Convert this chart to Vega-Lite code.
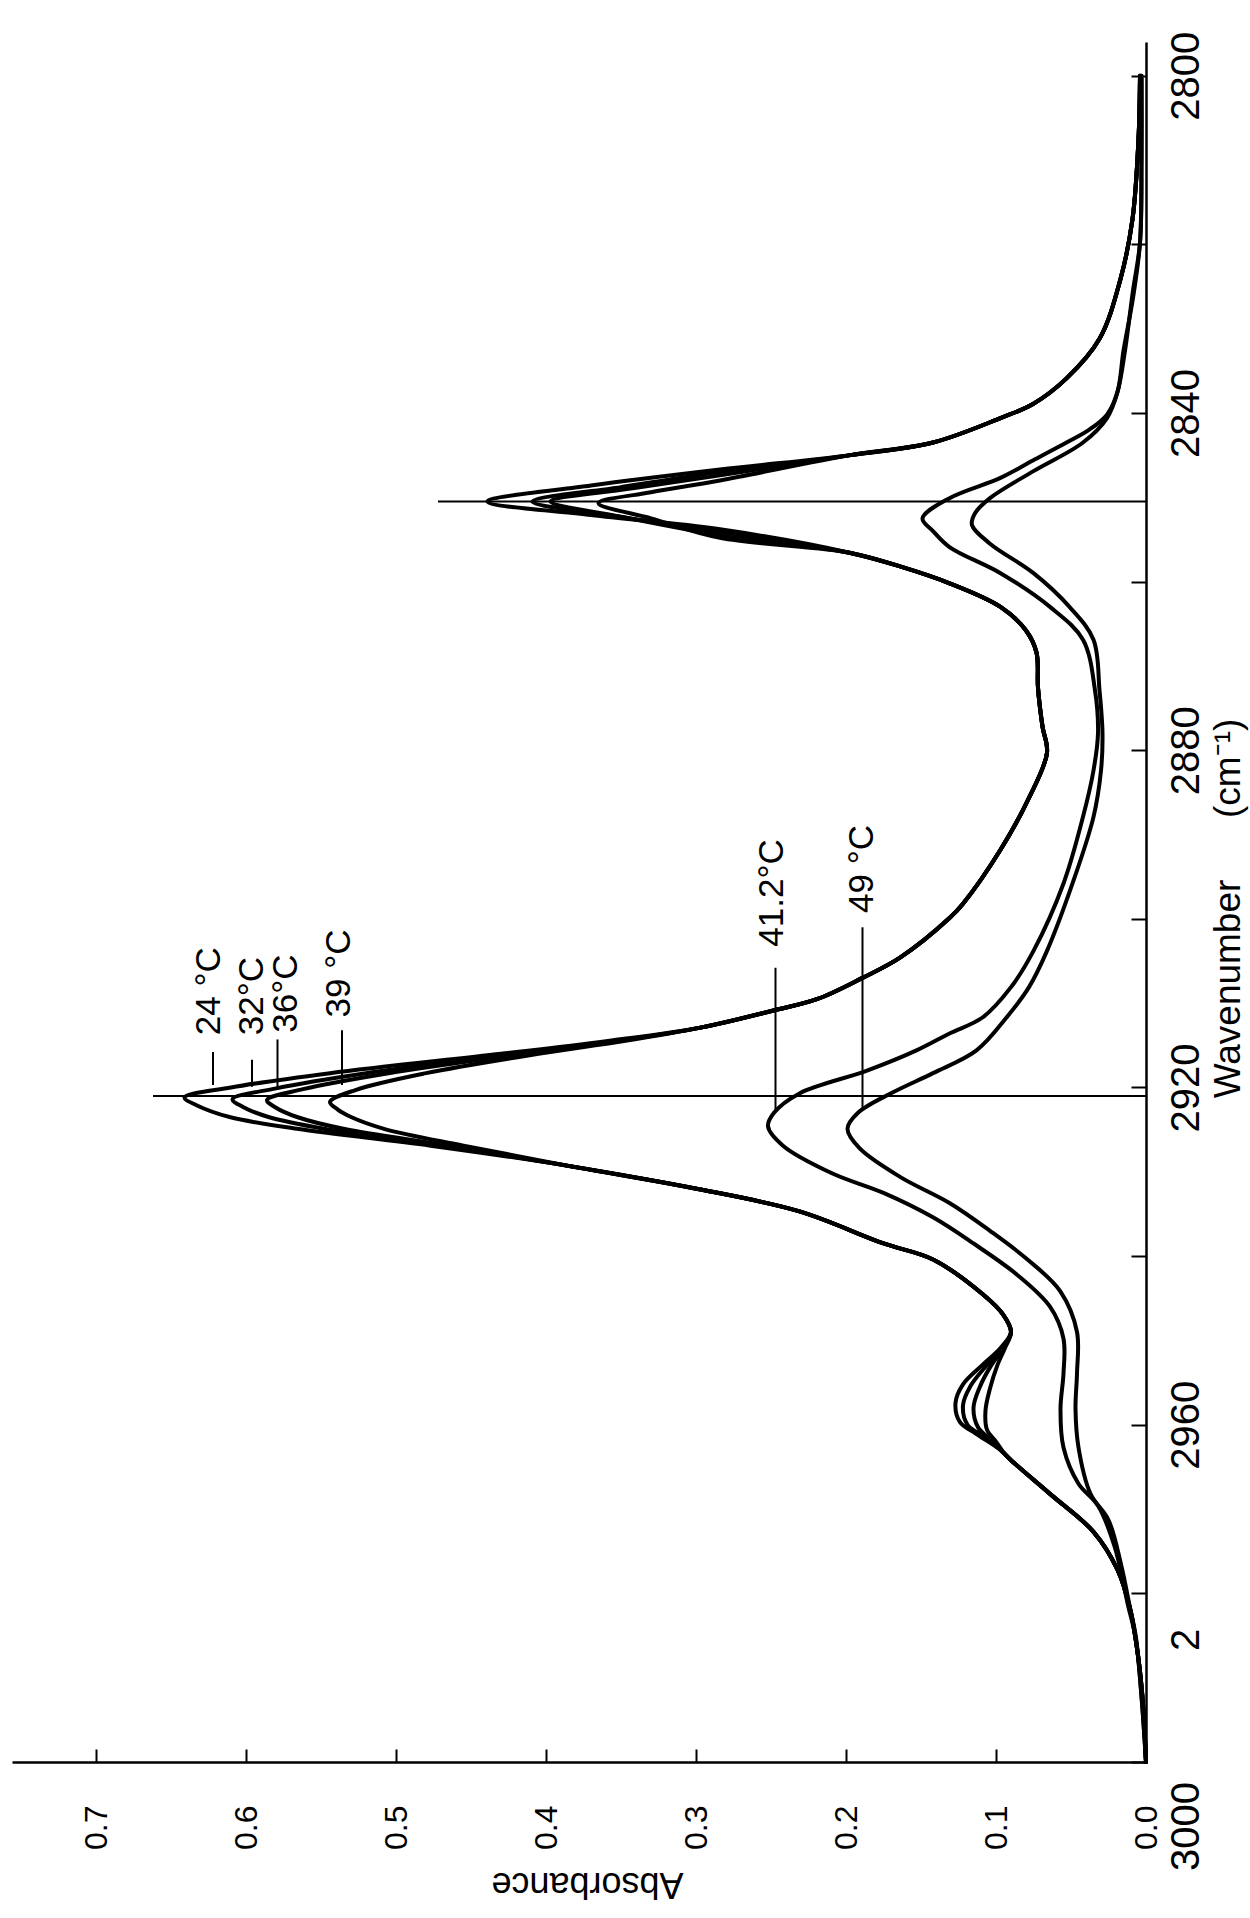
{
  "$schema": "https://vega.github.io/schema/vega-lite/v6.json",
  "width": 1134,
  "height": 1720,
  "autosize": {"type": "none"},
  "padding": {"left": 12, "top": 42, "right": 104, "bottom": 156},
  "background": "white",
  "config": {"view": {"stroke": null}, "font": "Liberation Sans"},
  "datasets": {
    "spectra": [
      {"T":"24","W":2800,"A":0.004},{"T":"24","W":2807.5,"A":0.005},{"T":"24","W":2817,"A":0.009},{"T":"24","W":2824.1,"A":0.017},{"T":"24","W":2831.2,"A":0.031},{"T":"24","W":2835.9,"A":0.053},{"T":"24","W":2838.9,"A":0.075},{"T":"24","W":2840.6,"A":0.097},{"T":"24","W":2843.5,"A":0.142},{"T":"24","W":2845,"A":0.197},
      {"T":"24","W":2846.7,"A":0.284},{"T":"24","W":2848.6,"A":0.37},{"T":"24","W":2850.5,"A":0.439},{"T":"24","W":2852.1,"A":0.37},{"T":"24","W":2853.8,"A":0.284},
      {"T":"24","W":2856.6,"A":0.197},{"T":"24","W":2858.2,"A":0.164},{"T":"24","W":2860.2,"A":0.131},{"T":"24","W":2863,"A":0.097},{"T":"24","W":2865.8,"A":0.08},{"T":"24","W":2868.4,"A":0.073},{"T":"24","W":2872.6,"A":0.072},{"T":"24","W":2877.2,"A":0.069},{"T":"24","W":2880.3,"A":0.066},{"T":"24","W":2886,"A":0.079},{"T":"24","W":2891.8,"A":0.097},{"T":"24","W":2898.2,"A":0.122},{"T":"24","W":2899.9,"A":0.131},{"T":"24","W":2904.6,"A":0.164},{"T":"24","W":2907,"A":0.189},{"T":"24","W":2909.5,"A":0.219},{"T":"24","W":2910.9,"A":0.249},{"T":"24","W":2912.9,"A":0.297},{"T":"24","W":2914.5,"A":0.36},
      {"T":"24","W":2916,"A":0.43},{"T":"24","W":2918.3,"A":0.544},{"T":"24","W":2920,"A":0.61},{"T":"24","W":2921.2,"A":0.641},{"T":"24","W":2922.1,"A":0.633},{"T":"24","W":2923.5,"A":0.611},{"T":"24","W":2924.9,"A":0.566},{"T":"24","W":2926.9,"A":0.477},
      {"T":"24","W":2929.3,"A":0.385},{"T":"24","W":2932.1,"A":0.297},{"T":"24","W":2934.7,"A":0.231},{"T":"24","W":2938.5,"A":0.175},{"T":"24","W":2940.4,"A":0.142},{"T":"24","W":2944.5,"A":0.109},{"T":"24","W":2947,"A":0.095},{"T":"24","W":2949,"A":0.09},{"T":"24","W":2950.9,"A":0.097},
      {"T":"24","W":2952.9,"A":0.109},{"T":"24","W":2955.2,"A":0.122},{"T":"24","W":2957.4,"A":0.127},{"T":"24","W":2959.7,"A":0.124},{"T":"24","W":2961.1,"A":0.113},{"T":"24","W":2963,"A":0.097},
      {"T":"24","W":2964.2,"A":0.09},{"T":"24","W":2968.2,"A":0.064},{"T":"24","W":2972.7,"A":0.035},{"T":"24","W":2977.2,"A":0.019},{"T":"24","W":2981.8,"A":0.0107},{"T":"24","W":2987.4,"A":0.0053},{"T":"24","W":2993.1,"A":0.002},{"T":"24","W":3000,"A":0},

      {"T":"32","W":2800,"A":0.004},{"T":"32","W":2807.5,"A":0.005},{"T":"32","W":2817,"A":0.009},{"T":"32","W":2824.1,"A":0.017},{"T":"32","W":2831.2,"A":0.031},{"T":"32","W":2835.9,"A":0.053},{"T":"32","W":2838.9,"A":0.075},{"T":"32","W":2840.6,"A":0.097},{"T":"32","W":2843.5,"A":0.142},{"T":"32","W":2845,"A":0.197},
      {"T":"32","W":2847,"A":0.284},{"T":"32","W":2848.8,"A":0.35},{"T":"32","W":2850.5,"A":0.409},{"T":"32","W":2852.2,"A":0.355},{"T":"32","W":2854.1,"A":0.284},
      {"T":"32","W":2856.6,"A":0.197},{"T":"32","W":2858.2,"A":0.164},{"T":"32","W":2860.2,"A":0.131},{"T":"32","W":2863,"A":0.097},{"T":"32","W":2865.8,"A":0.08},{"T":"32","W":2868.4,"A":0.073},{"T":"32","W":2872.6,"A":0.072},{"T":"32","W":2877.2,"A":0.069},{"T":"32","W":2880.3,"A":0.066},{"T":"32","W":2886,"A":0.079},{"T":"32","W":2891.8,"A":0.097},{"T":"32","W":2898.2,"A":0.122},{"T":"32","W":2899.9,"A":0.131},{"T":"32","W":2904.6,"A":0.164},{"T":"32","W":2907,"A":0.189},{"T":"32","W":2909.5,"A":0.219},{"T":"32","W":2910.9,"A":0.249},{"T":"32","W":2912.9,"A":0.297},{"T":"32","W":2914.5,"A":0.355},
      {"T":"32","W":2916,"A":0.42},{"T":"32","W":2918.3,"A":0.52},{"T":"32","W":2920.1,"A":0.58},{"T":"32","W":2921.4,"A":0.609},{"T":"32","W":2922.3,"A":0.602},{"T":"32","W":2923.5,"A":0.585},{"T":"32","W":2924.9,"A":0.548},{"T":"32","W":2926.9,"A":0.47},
      {"T":"32","W":2929.3,"A":0.385},{"T":"32","W":2932.1,"A":0.297},{"T":"32","W":2934.7,"A":0.231},{"T":"32","W":2938.5,"A":0.175},{"T":"32","W":2940.4,"A":0.142},{"T":"32","W":2944.5,"A":0.109},{"T":"32","W":2947,"A":0.095},{"T":"32","W":2949,"A":0.09},{"T":"32","W":2950.9,"A":0.096},
      {"T":"32","W":2952.9,"A":0.106},{"T":"32","W":2955.4,"A":0.117},{"T":"32","W":2957.7,"A":0.122},{"T":"32","W":2960,"A":0.119},{"T":"32","W":2961.3,"A":0.109},{"T":"32","W":2963,"A":0.097},
      {"T":"32","W":2964.2,"A":0.09},{"T":"32","W":2968.2,"A":0.064},{"T":"32","W":2972.7,"A":0.035},{"T":"32","W":2977.2,"A":0.019},{"T":"32","W":2981.8,"A":0.0107},{"T":"32","W":2987.4,"A":0.0053},{"T":"32","W":2993.1,"A":0.002},{"T":"32","W":3000,"A":0},

      {"T":"36","W":2800,"A":0.004},{"T":"36","W":2807.5,"A":0.005},{"T":"36","W":2817,"A":0.009},{"T":"36","W":2824.1,"A":0.017},{"T":"36","W":2831.2,"A":0.031},{"T":"36","W":2835.9,"A":0.053},{"T":"36","W":2838.9,"A":0.075},{"T":"36","W":2840.6,"A":0.097},{"T":"36","W":2843.5,"A":0.142},{"T":"36","W":2845,"A":0.197},
      {"T":"36","W":2847.4,"A":0.284},{"T":"36","W":2849,"A":0.345},{"T":"36","W":2850.5,"A":0.397},{"T":"36","W":2852.3,"A":0.35},{"T":"36","W":2854.5,"A":0.284},
      {"T":"36","W":2856.6,"A":0.197},{"T":"36","W":2858.2,"A":0.164},{"T":"36","W":2860.2,"A":0.131},{"T":"36","W":2863,"A":0.097},{"T":"36","W":2865.8,"A":0.08},{"T":"36","W":2868.4,"A":0.073},{"T":"36","W":2872.6,"A":0.072},{"T":"36","W":2877.2,"A":0.069},{"T":"36","W":2880.3,"A":0.066},{"T":"36","W":2886,"A":0.079},{"T":"36","W":2891.8,"A":0.097},{"T":"36","W":2898.2,"A":0.122},{"T":"36","W":2899.9,"A":0.131},{"T":"36","W":2904.6,"A":0.164},{"T":"36","W":2907,"A":0.189},{"T":"36","W":2909.5,"A":0.219},{"T":"36","W":2910.9,"A":0.249},{"T":"36","W":2912.9,"A":0.297},{"T":"36","W":2914.5,"A":0.352},
      {"T":"36","W":2916,"A":0.415},{"T":"36","W":2918.3,"A":0.505},{"T":"36","W":2920.2,"A":0.562},{"T":"36","W":2921.5,"A":0.586},{"T":"36","W":2922.4,"A":0.58},{"T":"36","W":2923.5,"A":0.566},{"T":"36","W":2924.9,"A":0.535},{"T":"36","W":2926.9,"A":0.465},
      {"T":"36","W":2929.3,"A":0.385},{"T":"36","W":2932.1,"A":0.297},{"T":"36","W":2934.7,"A":0.231},{"T":"36","W":2938.5,"A":0.175},{"T":"36","W":2940.4,"A":0.142},{"T":"36","W":2944.5,"A":0.109},{"T":"36","W":2947,"A":0.095},{"T":"36","W":2949,"A":0.09},{"T":"36","W":2950.9,"A":0.095},
      {"T":"36","W":2952.9,"A":0.103},{"T":"36","W":2955.6,"A":0.111},{"T":"36","W":2958,"A":0.115},{"T":"36","W":2960.3,"A":0.112},{"T":"36","W":2961.7,"A":0.104},{"T":"36","W":2963.3,"A":0.095},
      {"T":"36","W":2964.2,"A":0.09},{"T":"36","W":2968.2,"A":0.064},{"T":"36","W":2972.7,"A":0.035},{"T":"36","W":2977.2,"A":0.019},{"T":"36","W":2981.8,"A":0.0107},{"T":"36","W":2987.4,"A":0.0053},{"T":"36","W":2993.1,"A":0.002},{"T":"36","W":3000,"A":0},

      {"T":"39","W":2800,"A":0.004},{"T":"39","W":2807.5,"A":0.005},{"T":"39","W":2817,"A":0.009},{"T":"39","W":2824.1,"A":0.017},{"T":"39","W":2831.2,"A":0.031},{"T":"39","W":2835.9,"A":0.053},{"T":"39","W":2838.9,"A":0.075},{"T":"39","W":2840.6,"A":0.097},{"T":"39","W":2843.5,"A":0.142},{"T":"39","W":2845,"A":0.197},
      {"T":"39","W":2848,"A":0.284},{"T":"39","W":2849.4,"A":0.33},{"T":"39","W":2850.7,"A":0.365},{"T":"39","W":2852.5,"A":0.33},{"T":"39","W":2854.8,"A":0.284},
      {"T":"39","W":2856.6,"A":0.197},{"T":"39","W":2858.2,"A":0.164},{"T":"39","W":2860.2,"A":0.131},{"T":"39","W":2863,"A":0.097},{"T":"39","W":2865.8,"A":0.08},{"T":"39","W":2868.4,"A":0.073},{"T":"39","W":2872.6,"A":0.072},{"T":"39","W":2877.2,"A":0.069},{"T":"39","W":2880.3,"A":0.066},{"T":"39","W":2886,"A":0.079},{"T":"39","W":2891.8,"A":0.097},{"T":"39","W":2898.2,"A":0.122},{"T":"39","W":2899.9,"A":0.131},{"T":"39","W":2904.6,"A":0.164},{"T":"39","W":2907,"A":0.189},{"T":"39","W":2909.5,"A":0.219},{"T":"39","W":2910.9,"A":0.249},{"T":"39","W":2912.9,"A":0.297},{"T":"39","W":2914.5,"A":0.348},
      {"T":"39","W":2916,"A":0.405},{"T":"39","W":2918.3,"A":0.48},{"T":"39","W":2920.3,"A":0.527},{"T":"39","W":2921.7,"A":0.544},{"T":"39","W":2922.6,"A":0.539},{"T":"39","W":2923.5,"A":0.53},{"T":"39","W":2924.9,"A":0.508},{"T":"39","W":2926.9,"A":0.455},
      {"T":"39","W":2929.3,"A":0.385},{"T":"39","W":2932.1,"A":0.297},{"T":"39","W":2934.7,"A":0.231},{"T":"39","W":2938.5,"A":0.175},{"T":"39","W":2940.4,"A":0.142},{"T":"39","W":2944.5,"A":0.109},{"T":"39","W":2947,"A":0.095},{"T":"39","W":2949,"A":0.09},{"T":"39","W":2950.9,"A":0.094},
      {"T":"39","W":2952.9,"A":0.099},{"T":"39","W":2955.7,"A":0.104},{"T":"39","W":2958.3,"A":0.107},{"T":"39","W":2960.6,"A":0.106},{"T":"39","W":2962,"A":0.1},{"T":"39","W":2963.5,"A":0.094},
      {"T":"39","W":2964.2,"A":0.09},{"T":"39","W":2968.2,"A":0.064},{"T":"39","W":2972.7,"A":0.035},{"T":"39","W":2977.2,"A":0.019},{"T":"39","W":2981.8,"A":0.0107},{"T":"39","W":2987.4,"A":0.0053},{"T":"39","W":2993.1,"A":0.002},{"T":"39","W":3000,"A":0},

      {"T":"41.2","W":2800,"A":0.003},{"T":"41.2","W":2809.9,"A":0.003},{"T":"41.2","W":2819.8,"A":0.004},{"T":"41.2","W":2826.4,"A":0.0087},{"T":"41.2","W":2832.6,"A":0.015},{"T":"41.2","W":2837.5,"A":0.019},{"T":"41.2","W":2840.2,"A":0.026},{"T":"41.2","W":2842,"A":0.038},{"T":"41.2","W":2843.5,"A":0.053},{"T":"41.2","W":2845.5,"A":0.074},{"T":"41.2","W":2847.7,"A":0.097},{"T":"41.2","W":2850.1,"A":0.131},{"T":"41.2","W":2852.5,"A":0.149},{"T":"41.2","W":2854,"A":0.142},{"T":"41.2","W":2855.9,"A":0.131},{"T":"41.2","W":2859,"A":0.097},{"T":"41.2","W":2863,"A":0.064},{"T":"41.2","W":2866.9,"A":0.042},{"T":"41.2","W":2872.9,"A":0.034},{"T":"41.2","W":2878,"A":0.032},{"T":"41.2","W":2882.4,"A":0.035},{"T":"41.2","W":2887.9,"A":0.042},{"T":"41.2","W":2895.8,"A":0.055},{"T":"41.2","W":2903.8,"A":0.075},{"T":"41.2","W":2908.1,"A":0.09},{"T":"41.2","W":2911.7,"A":0.109},{"T":"41.2","W":2913.6,"A":0.131},{"T":"41.2","W":2915.6,"A":0.153},{"T":"41.2","W":2918,"A":0.186},{"T":"41.2","W":2920.7,"A":0.231},{"T":"41.2","W":2923,"A":0.248},{"T":"41.2","W":2924.6,"A":0.252},{"T":"41.2","W":2926.9,"A":0.242},{"T":"41.2","W":2930.2,"A":0.209},{"T":"41.2","W":2932.5,"A":0.175},{"T":"41.2","W":2935.4,"A":0.142},{"T":"41.2","W":2938.5,"A":0.115},{"T":"41.2","W":2942.2,"A":0.086},{"T":"41.2","W":2946,"A":0.064},{"T":"41.2","W":2949.8,"A":0.055},{"T":"41.2","W":2953.9,"A":0.055},{"T":"41.2","W":2958.1,"A":0.057},{"T":"41.2","W":2962.7,"A":0.055},{"T":"41.2","W":2967,"A":0.045},{"T":"41.2","W":2969.6,"A":0.032},{"T":"41.2","W":2974.4,"A":0.021},{"T":"41.2","W":2981.4,"A":0.012},{"T":"41.2","W":2985.2,"A":0.007},{"T":"41.2","W":2992.2,"A":0.003},{"T":"41.2","W":3000,"A":0},

      {"T":"49","W":2800,"A":0.003},{"T":"49","W":2809.9,"A":0.003},{"T":"49","W":2819.8,"A":0.004},{"T":"49","W":2825.5,"A":0.0087},{"T":"49","W":2832.6,"A":0.014},{"T":"49","W":2837.5,"A":0.019},{"T":"49","W":2840.6,"A":0.026},{"T":"49","W":2843.5,"A":0.042},{"T":"49","W":2846.9,"A":0.075},{"T":"49","W":2850.1,"A":0.104},{"T":"49","W":2851.9,"A":0.114},{"T":"49","W":2853.3,"A":0.116},{"T":"49","W":2855.5,"A":0.104},{"T":"49","W":2859,"A":0.075},{"T":"49","W":2863,"A":0.051},{"T":"49","W":2866.9,"A":0.035},{"T":"49","W":2872.9,"A":0.031},{"T":"49","W":2878,"A":0.029},{"T":"49","W":2882.4,"A":0.03},{"T":"49","W":2887.9,"A":0.035},{"T":"49","W":2895.8,"A":0.049},{"T":"49","W":2903.8,"A":0.066},{"T":"49","W":2908.1,"A":0.078},{"T":"49","W":2911.7,"A":0.093},{"T":"49","W":2915.6,"A":0.113},{"T":"49","W":2918.3,"A":0.142},{"T":"49","W":2920.6,"A":0.169},{"T":"49","W":2923,"A":0.192},{"T":"49","W":2924.9,"A":0.199},{"T":"49","W":2927.2,"A":0.191},{"T":"49","W":2930.6,"A":0.164},{"T":"49","W":2933.7,"A":0.131},{"T":"49","W":2937,"A":0.104},{"T":"49","W":2940.4,"A":0.079},{"T":"49","W":2944.2,"A":0.057},{"T":"49","W":2949,"A":0.046},{"T":"49","W":2953.9,"A":0.046},{"T":"49","W":2958.1,"A":0.047},{"T":"49","W":2962.7,"A":0.045},{"T":"49","W":2968.2,"A":0.037},{"T":"49","W":2971.3,"A":0.025},{"T":"49","W":2976.6,"A":0.0166},{"T":"49","W":2981.4,"A":0.011},{"T":"49","W":2985.2,"A":0.0067},{"T":"49","W":2992.2,"A":0.003},{"T":"49","W":3000,"A":0}
    ],
    "labels": [
      {"label":"24 °C","A":0.6173,"W":2913.8},
      {"label":"32°C","A":0.5887,"W":2913.8},
      {"label":"36°C","A":0.566,"W":2913.5},
      {"label":"39 °C","A":0.5307,"W":2911.7},
      {"label":"41.2°C","A":0.242,"W":2903.3},
      {"label":"49 °C","A":0.182,"W":2899.3}
    ],
    "leaders": [
      {"A":0.622,"W":2915.8,"W2":2919.7},
      {"A":0.596,"W":2916.7,"W2":2919.9},
      {"A":0.579,"W":2914.3,"W2":2920.3},
      {"A":0.536,"W":2913.2,"W2":2919.7},
      {"A":0.247,"W":2905.8,"W2":2922.6},
      {"A":0.189,"W":2901,"W2":2922.6}
    ],
    "peaks": [
      {"W":2921,"A":0,"A2":0.662},
      {"W":2850.5,"A":0,"A2":0.472}
    ]
  },
  "layer": [
    {
      "data": {"name": "spectra"},
      "mark": {"type": "line", "color": "black", "interpolate": "catmull-rom", "strokeJoin": "round", "strokeCap": "round"},
      "encoding": {
        "x": {
          "field": "A", "type": "quantitative",
          "scale": {"domain": [0, 0.756], "reverse": true, "nice": false, "zero": false},
          "axis": {
            "orient": "bottom", "grid": false,
            "values": [0, 0.1, 0.2, 0.3, 0.4, 0.5, 0.6, 0.7], "format": ".1f",
            "domainColor": "black", "domainWidth": 2.5,
            "tickColor": "black", "tickWidth": 2, "tickSize": -13,
            "labelPadding": 56, "labelAngle": -90, "labelAlign": "right", "labelBaseline": "middle",
            "labelFont": "Liberation Sans", "labelFontSize": 32, "labelColor": "black",
            "labelFlush": false, "labelOverlap": false,
            "title": "Absorbance", "titleAngle": 180, "titleFont": "Liberation Sans", "titleFontSize": 36,
            "titleFontWeight": "normal", "titleColor": "black", "titleBaseline": "alphabetic", "titleAlign": "center",
            "titleX": 575, "titleY": 110
          }
        },
        "y": {
          "field": "W", "type": "quantitative",
          "scale": {"domain": [2796, 3000], "reverse": true, "nice": false, "zero": false},
          "axis": {
            "orient": "right", "grid": false,
            "values": [2800, 2820, 2840, 2860, 2880, 2900, 2920, 2940, 2960, 2980, 3000],
            "labelExpr": "datum.value == 2980 ? '2' : (datum.value % 40 == 0 ? datum.label : '')",
            "labelOffset": {"condition": [{"test": "datum.value == 2980", "value": 46}, {"test": "datum.value == 3000", "value": 64}], "value": 0},
            "format": "d",
            "domainColor": "black", "domainWidth": 2.5,
            "tickColor": "black", "tickWidth": 2, "tickSize": -15,
            "labelPadding": 35, "labelAngle": -90, "labelAlign": "center", "labelBaseline": "top",
            "labelFont": "Liberation Sans", "labelFontSize": 40, "labelColor": "black",
            "labelFlush": false, "labelOverlap": false,
            "title": "Wavenumber\u00a0\u00a0\u00a0\u00a0\u00a0\u00a0(cm⁻¹)", "titleAngle": -90, "titleFont": "Liberation Sans", "titleFontSize": 37,
            "titleFontWeight": "normal", "titleColor": "black", "titleBaseline": "top", "titleAlign": "center",
            "titleX": 64, "titleY": 866
          }
        },
        "detail": {"field": "T", "type": "nominal"},
        "order": {"field": "W", "type": "quantitative"},
        "strokeWidth": {
          "field": "T", "type": "nominal",
          "scale": {"domain": ["24", "32", "36", "39", "41.2", "49"], "range": [4, 4, 4, 4, 2.2, 2.2]},
          "legend": null
        }
      }
    },
    {
      "data": {"name": "peaks"},
      "mark": {"type": "rule", "color": "black", "strokeWidth": 2},
      "encoding": {
        "y": {"field": "W", "type": "quantitative"},
        "x": {"field": "A", "type": "quantitative"},
        "x2": {"field": "A2"}
      }
    },
    {
      "data": {"name": "leaders"},
      "mark": {"type": "rule", "color": "black", "strokeWidth": 2},
      "encoding": {
        "x": {"field": "A", "type": "quantitative"},
        "y": {"field": "W", "type": "quantitative"},
        "y2": {"field": "W2"}
      }
    },
    {
      "data": {"name": "labels"},
      "mark": {"type": "text", "angle": 270, "align": "left", "baseline": "alphabetic", "font": "Liberation Sans", "fontSize": 35, "color": "black"},
      "encoding": {
        "x": {"field": "A", "type": "quantitative"},
        "y": {"field": "W", "type": "quantitative"},
        "text": {"field": "label", "type": "nominal"}
      }
    }
  ]
}
